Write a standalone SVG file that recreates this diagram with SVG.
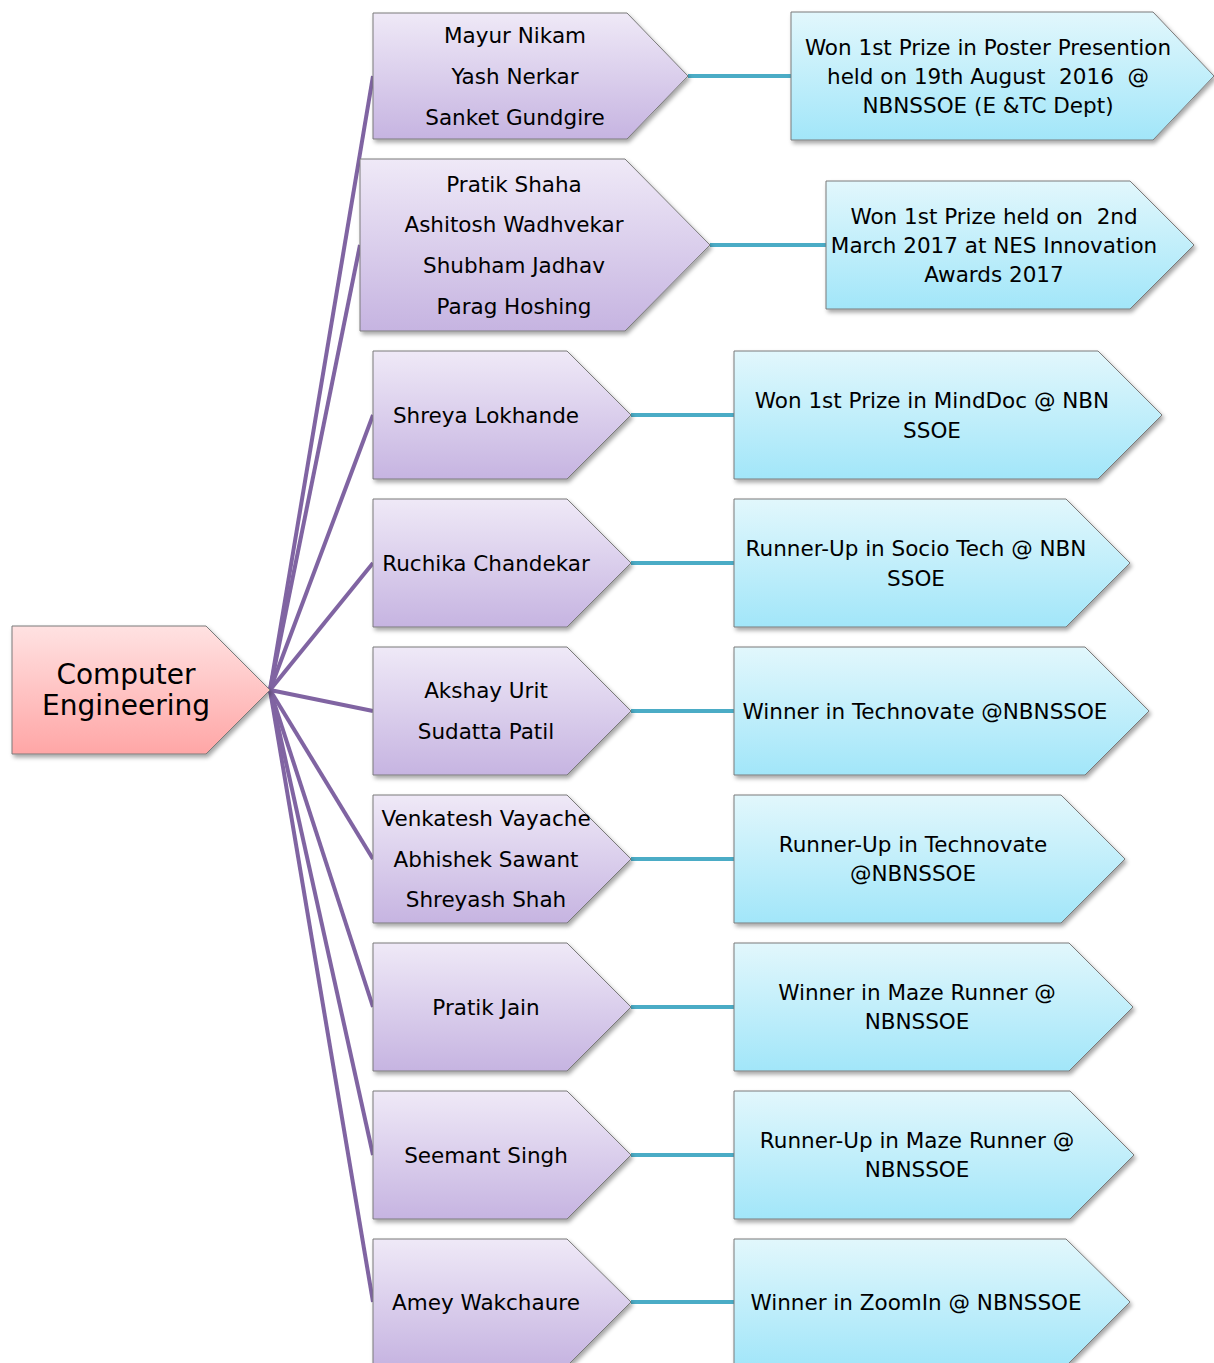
<svg xmlns="http://www.w3.org/2000/svg" width="1214" height="1363" viewBox="0 0 1214 1363">
<style>
text{font-family:"DejaVu Sans","Verdana",sans-serif;font-size:21.5px;fill:#000;text-anchor:middle;dominant-baseline:central;white-space:pre}
.root text{font-size:28px}
.p{fill:url(#gp);stroke:#7a7a7a;stroke-width:1;filter:url(#sh)}
.b{fill:url(#gb);stroke:#7a7a7a;stroke-width:1;filter:url(#sh)}
.r{fill:url(#gr);stroke:#7a7a7a;stroke-width:1;filter:url(#sh)}
.lp{stroke:#8064a2;stroke-width:4;fill:none}
.lb{stroke:#4bacc6;stroke-width:4;fill:none}
</style>
<defs>
<linearGradient id="gp" x1="0" y1="0" x2="0" y2="1"><stop offset="0" stop-color="#efe9f7"/><stop offset="1" stop-color="#c6b4e1"/></linearGradient>
<linearGradient id="gb" x1="0" y1="0" x2="0" y2="1"><stop offset="0" stop-color="#e2f7fc"/><stop offset="1" stop-color="#a2e6f9"/></linearGradient>
<linearGradient id="gr" x1="0" y1="0" x2="0" y2="1"><stop offset="0" stop-color="#ffe2e2"/><stop offset="1" stop-color="#ffa6a6"/></linearGradient>
<filter id="sh" x="-10%" y="-10%" width="130%" height="130%"><feDropShadow dx="2" dy="3" stdDeviation="2" flood-color="#000" flood-opacity="0.35"/></filter>
</defs>
<rect width="1214" height="1363" fill="#fff"/>
<g id="connectors">
<line class="lp" x1="270" y1="690" x2="373" y2="76"/>
<line class="lp" x1="270" y1="690" x2="360" y2="245"/>
<line class="lp" x1="270" y1="690" x2="373" y2="415"/>
<line class="lp" x1="270" y1="690" x2="373" y2="563"/>
<line class="lp" x1="270" y1="690" x2="373" y2="711"/>
<line class="lp" x1="270" y1="690" x2="373" y2="859"/>
<line class="lp" x1="270" y1="690" x2="373" y2="1007"/>
<line class="lp" x1="270" y1="690" x2="373" y2="1155"/>
<line class="lp" x1="270" y1="690" x2="373" y2="1302"/>
<line class="lb" x1="688" y1="76" x2="791" y2="76"/>
<line class="lb" x1="710" y1="245" x2="826" y2="245"/>
<line class="lb" x1="631" y1="415" x2="734" y2="415"/>
<line class="lb" x1="631" y1="563" x2="734" y2="563"/>
<line class="lb" x1="631" y1="711" x2="734" y2="711"/>
<line class="lb" x1="631" y1="859" x2="734" y2="859"/>
<line class="lb" x1="631" y1="1007" x2="734" y2="1007"/>
<line class="lb" x1="631" y1="1155" x2="734" y2="1155"/>
<line class="lb" x1="631" y1="1302" x2="734" y2="1302"/>
</g>
<g id="root" class="root">
<polygon class="r" points="12,626 206,626 270,690 206,754 12,754"/>
<text x="126" y="674">Computer</text>
<text x="126" y="705">Engineering</text>
</g>
<g id="p1">
<polygon class="p" points="373,13 627,13 688,76 627,139 373,139"/>
<text x="515" y="35">Mayur Nikam</text>
<text x="515" y="76">Yash Nerkar</text>
<text x="515" y="117">Sanket Gundgire</text>
</g>
<g id="p2">
<polygon class="p" points="360,159 625,159 710,245 625,331 360,331"/>
<text x="514" y="184">Pratik Shaha</text>
<text x="514" y="224">Ashitosh Wadhvekar</text>
<text x="514" y="265">Shubham Jadhav</text>
<text x="514" y="306">Parag Hoshing</text>
</g>
<g id="p3">
<polygon class="p" points="373,351 567,351 631,415 567,479 373,479"/>
<text x="486" y="415">Shreya Lokhande</text>
</g>
<g id="p4">
<polygon class="p" points="373,499 567,499 631,563 567,627 373,627"/>
<text x="486" y="563">Ruchika Chandekar</text>
</g>
<g id="p5">
<polygon class="p" points="373,647 567,647 631,711 567,775 373,775"/>
<text x="486" y="690">Akshay Urit</text>
<text x="486" y="731">Sudatta Patil</text>
</g>
<g id="p6">
<polygon class="p" points="373,795 567,795 631,859 567,923 373,923"/>
<text x="486" y="818">Venkatesh Vayache</text>
<text x="486" y="859">Abhishek Sawant</text>
<text x="486" y="899">Shreyash Shah</text>
</g>
<g id="p7">
<polygon class="p" points="373,943 567,943 631,1007 567,1071 373,1071"/>
<text x="486" y="1007">Pratik Jain</text>
</g>
<g id="p8">
<polygon class="p" points="373,1091 567,1091 631,1155 567,1219 373,1219"/>
<text x="486" y="1155">Seemant Singh</text>
</g>
<g id="p9">
<polygon class="p" points="373,1239 567,1239 631,1302 567,1366 373,1366"/>
<text x="486" y="1302">Amey Wakchaure</text>
</g>
<g id="b1">
<polygon class="b" points="791,12 1153,12 1214,76 1153,140 791,140"/>
<text x="988" y="47">Won 1st Prize in Poster Presention</text>
<text x="988" y="76" xml:space="preserve">held on 19th August  2016  @</text>
<text x="988" y="105">NBNSSOE (E &amp;TC Dept)</text>
</g>
<g id="b2">
<polygon class="b" points="826,181 1130,181 1194,245 1130,309 826,309"/>
<text x="994" y="216" xml:space="preserve">Won 1st Prize held on  2nd</text>
<text x="994" y="245">March 2017 at NES Innovation</text>
<text x="994" y="274">Awards 2017</text>
</g>
<g id="b3">
<polygon class="b" points="734,351 1098,351 1162,415 1098,479 734,479"/>
<text x="932" y="400">Won 1st Prize in MindDoc @ NBN</text>
<text x="932" y="430">SSOE</text>
</g>
<g id="b4">
<polygon class="b" points="734,499 1066,499 1130,563 1066,627 734,627"/>
<text x="916" y="548">Runner-Up in Socio Tech @ NBN</text>
<text x="916" y="578">SSOE</text>
</g>
<g id="b5">
<polygon class="b" points="734,647 1085,647 1149,711 1085,775 734,775"/>
<text x="925" y="711">Winner in Technovate @NBNSSOE</text>
</g>
<g id="b6">
<polygon class="b" points="734,795 1061,795 1125,859 1061,923 734,923"/>
<text x="913" y="844">Runner-Up in Technovate</text>
<text x="913" y="873">@NBNSSOE</text>
</g>
<g id="b7">
<polygon class="b" points="734,943 1069,943 1133,1007 1069,1071 734,1071"/>
<text x="917" y="992">Winner in Maze Runner @</text>
<text x="917" y="1021">NBNSSOE</text>
</g>
<g id="b8">
<polygon class="b" points="734,1091 1070,1091 1134,1155 1070,1219 734,1219"/>
<text x="917" y="1140">Runner-Up in Maze Runner @</text>
<text x="917" y="1169">NBNSSOE</text>
</g>
<g id="b9">
<polygon class="b" points="734,1239 1066,1239 1130,1302 1066,1366 734,1366"/>
<text x="916" y="1302">Winner in ZoomIn @ NBNSSOE</text>
</g>
</svg>
